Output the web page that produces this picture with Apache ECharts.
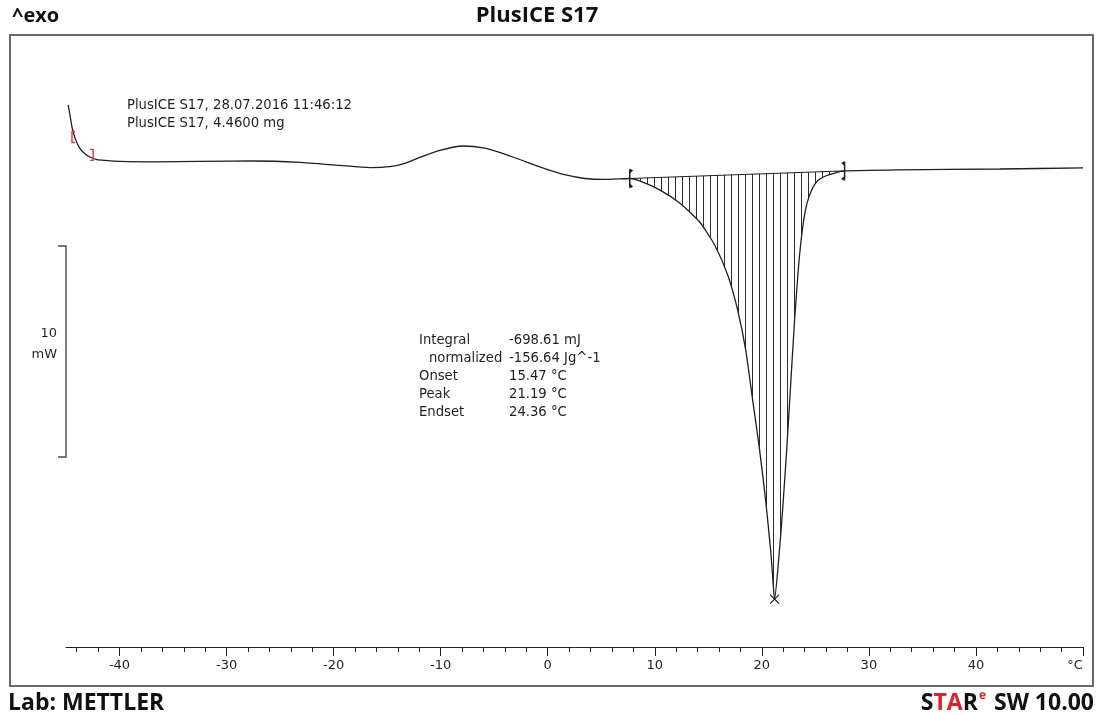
<!DOCTYPE html>
<html>
<head>
<meta charset="utf-8">
<script src="https://cdn.jsdelivr.net/npm/echarts@6/dist/echarts.min.js"></script>
<style>
  html, body { margin: 0; padding: 0; background: #ffffff; }
  #chart { width: 1102px; height: 715px; }
</style>
</head>
<body>
<div id="chart"></div>
<script>
// DSC heating run of PlusICE S17: heat flow (mW, exo up) against temperature (°C)
const temperature = [
  -44.8, -44.63, -44.44, -44.16, -43.79, -43.32, -42.76, -42.11, -41.36, -39.96,
  -36.69, -32.49, -27.36, -23.16, -19.42, -16.62, -14.75, -13.35, -11.95, -10.08,
  -7.94, -5.88, -4.01, -2.15, -0.28, 1.59, 3.45, 5.32, 6.72, 7.66,
  8.59, 10.46, 12.32, 14.19, 15.59, 16.81, 17.74, 18.49, 19.14, 19.79,
  20.35, 20.82, 21.0, 21.19, 21.57, 21.94, 22.32, 22.69, 23.06, 23.44,
  23.81, 24.18, 24.65, 25.21, 25.96, 26.8, 27.73, 32.87, 42.2, 50
];
const heatFlow = [
  1.69, 1.21, 0.64, 0.12, -0.30, -0.59, -0.78, -0.90, -0.94, -0.99,
  -1.01, -0.99, -0.97, -1.04, -1.18, -1.28, -1.24, -1.08, -0.80, -0.47,
  -0.26, -0.36, -0.64, -0.99, -1.33, -1.62, -1.80, -1.84, -1.82, -1.80,
  -1.91, -2.34, -2.96, -3.86, -4.95, -6.37, -8.03, -9.92, -12.29, -14.66,
  -17.03, -19.40, -20.59, -21.73, -19.88, -17.51, -14.66, -11.58, -8.50, -5.90,
  -4.14, -3.05, -2.34, -1.91, -1.68, -1.54, -1.44, -1.39, -1.35, -1.30
];

// Integration limits (temperature, heat flow) joined by the straight baseline
const integrationStart = [7.66, -1.80];
const integrationEnd = [27.73, -1.44];

// Evaluation results
const sampleName = 'PlusICE S17';
const measuredAt = '28.07.2016 11:46:12';
const sampleMass = '4.4600 mg';
const integralMJ = -698.61;
const normalizedJg = -156.64;
const onsetTemp = 15.47;
const peakTemp = 21.19;
const peakHeatFlow = -21.73;
const endsetTemp = 24.36;

// Red evaluation brackets near the start of the run
const rangeBrackets = [[-44.3, 0.17, -1], [-42.6, -0.68, 1]];

// Temperature axis ticks
const majorTicks = [-40, -30, -20, -10, 0, 10, 20, 30, 40, 50];
const minorTicks = [-44, -42, -40, -38, -36, -34, -32, -30, -28, -26, -24, -22, -20, -18, -16,
  -14, -12, -10, -8, -6, -4, -2, 0, 2, 4, 6, 8, 10, 12, 14, 16, 18, 20, 22, 24, 26, 28, 30,
  32, 34, 36, 38, 40, 42, 44, 46, 48, 50];

// 10 mW scale bar, drawn at the left end of the temperature range
const scaleBar = [-45, -15, -5];

const curve = temperature.map((t, i) => [t, heatFlow[i]]);
const ink = '#1f1f1f';
const bodyFont = '"DejaVu Sans", Verdana, sans-serif';
const headFont = '"Open Sans", "Noto Sans", sans-serif';

// vertical hatch pattern for the integrated peak area
const hatch = document.createElement('canvas');
hatch.width = 7;
hatch.height = 8;
const hctx = hatch.getContext('2d');
hctx.fillStyle = '#2e2e2e';
hctx.fillRect(3, 0, 1, 8);

const chart = echarts.init(document.getElementById('chart'), null, { renderer: 'canvas' });

const resultRows = [
  ['Integral', integralMJ.toFixed(2) + ' mJ', 0],
  ['normalized', normalizedJg.toFixed(2) + ' Jg^-1', 10],
  ['Onset', onsetTemp.toFixed(2) + ' °C', 0],
  ['Peak', peakTemp.toFixed(2) + ' °C', 0],
  ['Endset', endsetTemp.toFixed(2) + ' °C', 0]
];

const graphics = [
  { type: 'rect', shape: { x: 10, y: 35, width: 1083, height: 651 },
    style: { fill: 'none', stroke: '#6a6a6a', lineWidth: 2 }, z: 1 },
  { type: 'text', x: 12, y: 16, style: { text: '^exo', font: 'bold 20px ' + headFont, fill: '#111', verticalAlign: 'middle' } },
  { type: 'text', x: 537, y: 16, style: { text: sampleName, font: 'bold 22px ' + headFont, fill: '#111', align: 'center', verticalAlign: 'middle' } },
  { type: 'text', x: 8, y: 703, style: { text: 'Lab: METTLER', font: 'bold 23px ' + headFont, fill: '#111', verticalAlign: 'middle' } },
  { type: 'text', x: 1094, y: 703, style: {
      text: '{k|S}{r|TA}{k|R}{s|e}{k| SW 10.00}', align: 'right', verticalAlign: 'middle',
      rich: {
        k: { font: 'bold 23px ' + headFont, fill: '#111', lineHeight: 26 },
        r: { font: 'bold 23px ' + headFont, fill: '#d9232e', lineHeight: 26 },
        s: { font: 'bold 12px ' + headFont, fill: '#d9232e', lineHeight: 26, verticalAlign: 'top', padding: [0, 2, 10, 1] }
      } } },
  { type: 'text', x: 127, y: 106, style: { text: sampleName + ', ' + measuredAt, font: '13.2px ' + bodyFont, fill: ink, verticalAlign: 'middle' } },
  { type: 'text', x: 127, y: 124, style: { text: sampleName + ', ' + sampleMass, font: '13.2px ' + bodyFont, fill: ink, verticalAlign: 'middle' } }
];
resultRows.forEach((row, i) => {
  graphics.push({ type: 'text', x: 419 + row[2], y: 341 + i * 18,
    style: { text: row[0], font: '13.2px ' + bodyFont, fill: ink, verticalAlign: 'middle' } });
  graphics.push({ type: 'text', x: 509, y: 341 + i * 18,
    style: { text: row[1], font: '13.2px ' + bodyFont, fill: ink, verticalAlign: 'middle' } });
});

const option = {
  animation: false,
  backgroundColor: '#ffffff',
  grid: { left: 66, right: 19, top: 35, bottom: 68, containLabel: false },
  xAxis: [
    {
      type: 'value', min: -45, max: 50, position: 'bottom',
      axisLine: { show: true, onZero: false, lineStyle: { color: ink, width: 1 } },
      axisTick: { show: true, customValues: minorTicks, length: 5, lineStyle: { color: ink, width: 1 } },
      axisLabel: { show: false },
      splitLine: { show: false }
    },
    {
      type: 'value', min: -45, max: 50, position: 'bottom', offset: 0,
      axisLine: { show: false, onZero: false },
      axisTick: { show: true, customValues: majorTicks, length: 9, lineStyle: { color: ink, width: 1 } },
      axisLabel: {
        show: true, customValues: majorTicks, margin: 12,
        formatter: v => (v === 50 ? '{u|°C}' : String(v)),
        rich: { u: { fontSize: 13, fontFamily: 'DejaVu Sans', color: ink, padding: [0, 16, 0, 0] } },
        color: ink, fontSize: 13, fontFamily: 'DejaVu Sans'
      },
      splitLine: { show: false }
    }
  ],
  yAxis: {
    type: 'value', min: -24, max: 5, show: false, splitLine: { show: false }
  },
  graphic: graphics,
  series: [
    {
      // hatched area between the peak and the straight baseline
      type: 'custom', name: 'peak area', z: 2, silent: true,
      data: [[integrationStart[0], integrationStart[1]]],
      renderItem: (params, api) => {
        const pts = [api.coord(integrationStart)];
        curve.forEach(p => {
          if (p[0] > integrationStart[0] && p[0] < integrationEnd[0]) pts.push(api.coord(p));
        });
        pts.push(api.coord(integrationEnd));
        return { type: 'polygon', shape: { points: pts, smooth: 0.2 },
          style: { fill: { image: hatch, repeat: 'repeat' }, stroke: 'none' } };
      }
    },
    {
      type: 'line', name: 'heat flow', data: curve, showSymbol: false, z: 5,
      smooth: 0.2,
      lineStyle: { color: ink, width: 1.3 }
    },
    {
      type: 'line', name: 'baseline', data: [integrationStart, integrationEnd], showSymbol: false, z: 5,
      lineStyle: { color: ink, width: 1 }
    },
    {
      // integration limit markers
      type: 'custom', name: 'limits', z: 6, silent: true,
      data: [[integrationStart[0], integrationStart[1], 1], [integrationEnd[0], integrationEnd[1], -1]],
      renderItem: (params, api) => {
        const c = api.coord([api.value(0), api.value(1)]);
        const d = api.value(2);
        return { type: 'group', children: [
          { type: 'line', shape: { x1: c[0], y1: c[1] - 9, x2: c[0], y2: c[1] + 9 }, style: { stroke: ink, lineWidth: 1.5 } },
          { type: 'polygon', shape: { points: [[c[0], c[1] - 10], [c[0] + 3.5 * d, c[1] - 8], [c[0], c[1] - 5]] }, style: { fill: ink } },
          { type: 'polygon', shape: { points: [[c[0], c[1] + 10], [c[0] + 3.5 * d, c[1] + 8], [c[0], c[1] + 5]] }, style: { fill: ink } }
        ] };
      }
    },
    {
      // peak cross
      type: 'custom', name: 'peak', z: 6, silent: true,
      data: [[peakTemp, peakHeatFlow]],
      renderItem: (params, api) => {
        const c = api.coord([api.value(0), api.value(1)]);
        const r = 4.5;
        return { type: 'group', children: [
          { type: 'line', shape: { x1: c[0] - r, y1: c[1] - r, x2: c[0] + r, y2: c[1] + r }, style: { stroke: ink, lineWidth: 1.2 } },
          { type: 'line', shape: { x1: c[0] - r, y1: c[1] + r, x2: c[0] + r, y2: c[1] - r }, style: { stroke: ink, lineWidth: 1.2 } }
        ] };
      }
    },
    {
      // red range brackets
      type: 'custom', name: 'range', z: 6, silent: true,
      data: rangeBrackets,
      renderItem: (params, api) => {
        const c = api.coord([api.value(0), api.value(1)]);
        const d = api.value(2);
        const x = c[0] + 1.5 * d;
        return { type: 'polyline', shape: { points: [[x - 3 * d, c[1] - 5.5], [x, c[1] - 5.5], [x, c[1] + 5.5], [x - 3 * d, c[1] + 5.5]] },
          style: { stroke: '#d8363a', lineWidth: 1.4, fill: 'none' } };
      }
    },
    {
      // 10 mW scale bar
      type: 'custom', name: 'scale', z: 6, silent: true,
      data: [scaleBar],
      renderItem: (params, api) => {
        const top = api.coord([api.value(0), api.value(2)]);
        const bot = api.coord([api.value(0), api.value(1)]);
        const span = Math.round(api.value(2) - api.value(1));
        return { type: 'group', children: [
          { type: 'polyline', shape: { points: [[top[0] - 8, top[1]], [top[0], top[1]], [bot[0], bot[1]], [bot[0] - 8, bot[1]]] },
            style: { stroke: '#4a4a4a', lineWidth: 1.4, fill: 'none' } },
          { type: 'text', x: top[0] - 9, y: (top[1] + bot[1]) / 2 - 7,
            style: { text: span + '\nmW', align: 'right', verticalAlign: 'middle', font: '13px ' + bodyFont, fill: ink, lineHeight: 21 } }
        ] };
      }
    }
  ]
};

chart.setOption(option);
</script>
</body>
</html>
